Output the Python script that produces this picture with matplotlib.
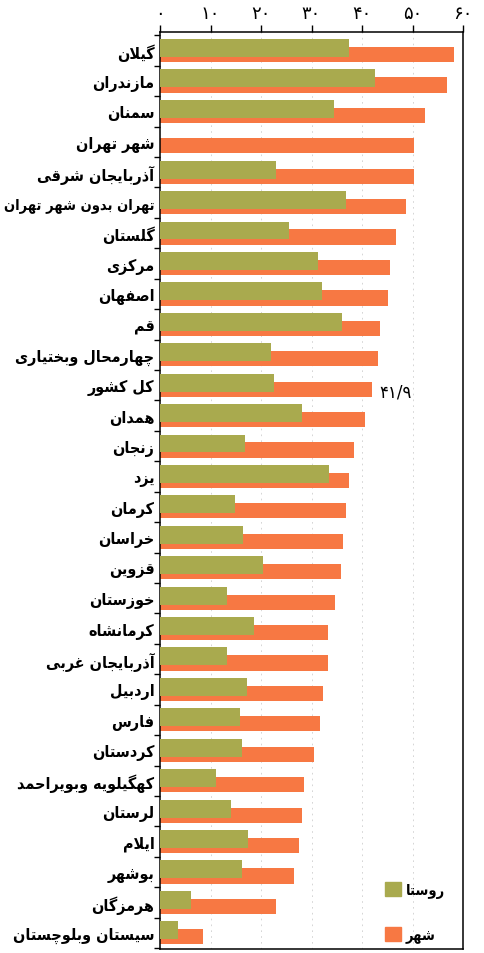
import matplotlib
matplotlib.use("Agg")
import matplotlib.pyplot as plt
from matplotlib.patches import Patch
import numpy as np

# ---------------- data ----------------
provinces = ["گیلان", "مازندران", "سمنان", "شهر تهران", "آذربایجان شرقی",
             "تهران بدون شهر تهران", "گلستان", "مرکزی", "اصفهان", "قم",
             "چهارمحال وبختیاری", "کل کشور", "همدان", "زنجان", "یزد",
             "کرمان", "خراسان", "قزوین", "خوزستان", "کرمانشاه",
             "آذربایجان غربی", "اردبیل", "فارس", "کردستان", "کهگیلویه وبویراحمد",
             "لرستان", "ایلام", "بوشهر", "هرمزگان", "سیستان وبلوچستان"]
rural = [37.5, 42.6, 34.4, 0.0, 23.0, 36.9, 25.6, 31.3, 32.1, 36.0,
         22.0, 22.6, 28.2, 16.9, 33.5, 14.8, 16.4, 20.4, 13.3, 18.7,
         13.3, 17.3, 15.8, 16.3, 11.1, 14.1, 17.4, 16.3, 6.1, 3.6]
urban = [58.2, 56.8, 52.4, 50.3, 50.2, 48.7, 46.7, 45.6, 45.1, 43.6,
         43.1, 41.9, 40.5, 38.4, 37.5, 36.8, 36.3, 35.9, 34.7, 33.3,
         33.2, 32.3, 31.7, 30.5, 28.6, 28.1, 27.6, 26.6, 22.9, 8.6]
series_names = ["روستا", "شهر"]
x_ticks = [0, 10, 20, 30, 40, 50, 60]
x_tick_labels = ["۰", "۱۰", "۲۰", "۳۰", "۴۰", "۵۰", "۶۰"]
total_label = "۴۱/۹"
total_index = 11

# ---------------- simple Persian shaping (matplotlib has no bidi/shaping) ----------------
FORMS = {
    'ا': ('\uFE8D', '\uFE8E', None, None),
    'آ': ('\uFE81', '\uFE82', None, None),
    'ب': ('\uFE8F', '\uFE90', '\uFE91', '\uFE92'),
    'پ': ('\uFB56', '\uFB57', '\uFB58', '\uFB59'),
    'ت': ('\uFE95', '\uFE96', '\uFE97', '\uFE98'),
    'ث': ('\uFE99', '\uFE9A', '\uFE9B', '\uFE9C'),
    'ج': ('\uFE9D', '\uFE9E', '\uFE9F', '\uFEA0'),
    'چ': ('\uFB7A', '\uFB7B', '\uFB7C', '\uFB7D'),
    'ح': ('\uFEA1', '\uFEA2', '\uFEA3', '\uFEA4'),
    'خ': ('\uFEA5', '\uFEA6', '\uFEA7', '\uFEA8'),
    'د': ('\uFEA9', '\uFEAA', None, None),
    'ذ': ('\uFEAB', '\uFEAC', None, None),
    'ر': ('\uFEAD', '\uFEAE', None, None),
    'ز': ('\uFEAF', '\uFEB0', None, None),
    'ژ': ('\uFB8A', '\uFB8B', None, None),
    'س': ('\uFEB1', '\uFEB2', '\uFEB3', '\uFEB4'),
    'ش': ('\uFEB5', '\uFEB6', '\uFEB7', '\uFEB8'),
    'ص': ('\uFEB9', '\uFEBA', '\uFEBB', '\uFEBC'),
    'ض': ('\uFEBD', '\uFEBE', '\uFEBF', '\uFEC0'),
    'ط': ('\uFEC1', '\uFEC2', '\uFEC3', '\uFEC4'),
    'ظ': ('\uFEC5', '\uFEC6', '\uFEC7', '\uFEC8'),
    'ع': ('\uFEC9', '\uFECA', '\uFECB', '\uFECC'),
    'غ': ('\uFECD', '\uFECE', '\uFECF', '\uFED0'),
    'ف': ('\uFED1', '\uFED2', '\uFED3', '\uFED4'),
    'ق': ('\uFED5', '\uFED6', '\uFED7', '\uFED8'),
    'ک': ('\uFB8E', '\uFB8F', '\uFB90', '\uFB91'),
    'گ': ('\uFB92', '\uFB93', '\uFB94', '\uFB95'),
    'ل': ('\uFEDD', '\uFEDE', '\uFEDF', '\uFEE0'),
    'م': ('\uFEE1', '\uFEE2', '\uFEE3', '\uFEE4'),
    'ن': ('\uFEE5', '\uFEE6', '\uFEE7', '\uFEE8'),
    'و': ('\uFEED', '\uFEEE', None, None),
    'ه': ('\uFEE9', '\uFEEA', '\uFEEB', '\uFEEC'),
    'ی': ('\uFBFC', '\uFBFD', '\uFBFE', '\uFBFF'),
}


def joins_forward(ch):
    return ch in FORMS and FORMS[ch][2] is not None


def shape(s):
    chars = list(s)
    out = []
    i = 0
    n = len(chars)
    while i < n:
        ch = chars[i]
        if ch not in FORMS:
            out.append(ch)
            i += 1
            continue
        prev = chars[i - 1] if i > 0 else None
        jp = prev is not None and joins_forward(prev)
        if ch == 'ل' and i + 1 < n and chars[i + 1] == 'ا':
            out.append('\uFEFC' if jp else '\uFEFB')
            i += 2
            continue
        nxt = chars[i + 1] if i + 1 < n else None
        jn = joins_forward(ch) and nxt is not None and nxt in FORMS
        iso, fin, ini, med = FORMS[ch]
        if jp and jn:
            out.append(med)
        elif jp:
            out.append(fin)
        elif jn:
            out.append(ini)
        else:
            out.append(iso)
        i += 1
    return ''.join(reversed(out))


# ---------------- plot ----------------
green = '#A9AA4E'
orange = '#F77843'

fig = plt.figure(figsize=(4.84, 9.54), dpi=100)
ax = fig.add_axes([160 / 484, 4 / 954, 303 / 484, 917 / 954])

y = np.arange(len(provinces))
ax.barh(y + 0.13, urban, height=0.5, color=orange, zorder=2)
ax.barh(y - 0.085, rural, height=0.59, color=green, zorder=3)

ax.set_xlim(0, 60)
ax.set_ylim(len(provinces) - 1 + 0.53, -0.61)

ax.xaxis.tick_top()
ax.set_xticks(x_ticks)
ax.set_xticklabels(x_tick_labels, fontsize=13, family='DejaVu Sans')
ax.tick_params(axis='x', direction='out', length=5, width=1, pad=2)

ax.set_yticks(y)
ax.set_yticklabels([shape(p) for p in provinces], fontsize=11.5,
                   fontweight='bold', fontstretch='condensed',
                   family='DejaVu Sans')
ax.tick_params(axis='y', which='major', length=0, pad=4)
ax.set_yticks(np.arange(len(provinces) + 1) - 0.5, minor=True)
ax.tick_params(axis='y', which='minor', direction='out', length=4, width=1)

for gx in x_ticks[1:-1]:
    ax.axvline(gx, color='#cfcfcf', lw=0.6, ls=(0, (2, 5)), zorder=1)

for sp in ax.spines.values():
    sp.set_linewidth(1.1)

ax.text(urban[total_index] + 1.6, total_index + 0.2, total_label,
        fontsize=12, va='center', ha='left', family='DejaVu Sans')

handles = [Patch(color=green), Patch(color=orange)]
leg = ax.legend(handles, [shape(s) for s in series_names],
                loc='center left', bbox_to_anchor=(0.70, 0.04),
                frameon=False, handlelength=1.1, handleheight=1.1,
                handletextpad=0.3, labelspacing=2.0,
                prop={'family': 'DejaVu Sans', 'weight': 'bold', 'size': 10.5,
                      'stretch': 'condensed'})

# shrink any label that would run past the left edge of the figure
fig.canvas.draw()
renderer = fig.canvas.get_renderer()
for lab in ax.get_yticklabels():
    size = lab.get_fontsize()
    while lab.get_window_extent(renderer).x0 < 2 and size > 8:
        size -= 0.25
        lab.set_fontsize(size)

fig.savefig('out.png', dpi=100)
